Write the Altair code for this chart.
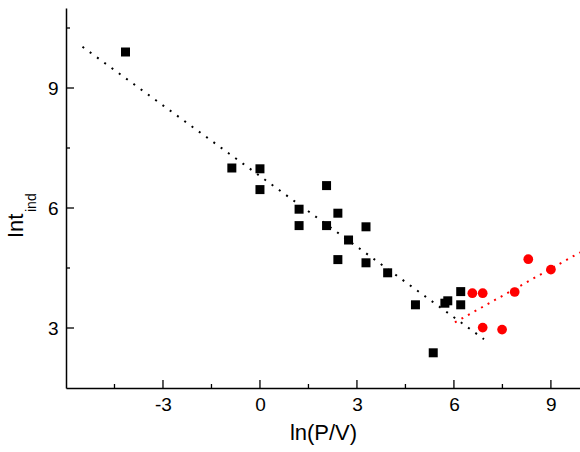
import altair as alt
import pandas as pd

# Black squares (ln(P/V), Int_ind)
sq_x = [-4.16, -0.87, 0.0, 0.0, 1.21, 1.21, 2.06, 2.06, 2.41, 2.41, 2.74, 3.28, 3.28,
        3.95, 4.81, 5.36, 5.72, 5.81, 6.21, 6.21]
sq_y = [9.9, 7.0, 6.98, 6.46, 5.97, 5.56, 6.56, 5.56, 5.87, 4.71, 5.2, 5.53, 4.63,
        4.38, 3.58, 2.38, 3.62, 3.68, 3.91, 3.58]
# Red circles
ci_x = [6.57, 6.89, 6.89, 7.49, 7.88, 8.3, 9.0]
ci_y = [3.87, 3.87, 3.01, 2.96, 3.9, 4.72, 4.46]
# Fit lines (end points)
fit_black_x = [-5.49, 6.93]
fit_black_y = [10.03, 2.72]
fit_red_x = [6.03, 9.9]
fit_red_y = [3.14, 4.89]
# Ticks
x_major = [-3, 0, 3, 6, 9]
x_minor = [-4.5, -1.5, 1.5, 4.5, 7.5]
y_major = [3, 6, 9]
y_minor = [4.5, 7.5, 10.5]

FONT = "Liberation Sans"
W, H = 514, 380
xs = alt.Scale(domain=[-6, 9.9], nice=False, zero=False)
ys = alt.Scale(domain=[1.5, 11], nice=False, zero=False)

sq = pd.DataFrame({"x": sq_x, "y": sq_y})
ci = pd.DataFrame({"x": ci_x, "y": ci_y})
fb = pd.DataFrame({"x": fit_black_x, "y": fit_black_y})
fr = pd.DataFrame({"x": fit_red_x, "y": fit_red_y})

xaxis = alt.Axis(values=x_major, ticks=False, grid=False, domainColor="black",
                 domainWidth=1.5, labelFontSize=19, labelColor="black",
                 labelPadding=7, labelFont=FONT, labelExpr="'' + datum.value",
                 title="ln(P/V)", titleFont=FONT,
                 titleFontSize=22, titleFontWeight="normal", titleColor="black",
                 titlePadding=8)
yaxis = alt.Axis(values=y_major, ticks=False, grid=False, domainColor="black",
                 domainWidth=1.5, labelFontSize=19, labelColor="black",
                 labelPadding=8, labelFont=FONT, labelExpr="'' + datum.value", title=None)

base_sq = alt.Chart(sq).mark_point(shape="square", filled=True, size=81, opacity=1,
                                   color="black").encode(
    x=alt.X("x:Q", scale=xs, axis=xaxis),
    y=alt.Y("y:Q", scale=ys, axis=yaxis),
)
base_ci = alt.Chart(ci).mark_point(shape="circle", filled=True, size=95, opacity=1,
                                   color="#ff0000").encode(
    x=alt.X("x:Q", scale=xs), y=alt.Y("y:Q", scale=ys))

line_b = alt.Chart(fb).mark_line(color="black", strokeWidth=2, strokeDash=[2, 7]).encode(
    x=alt.X("x:Q", scale=xs), y=alt.Y("y:Q", scale=ys))
line_r = alt.Chart(fr).mark_line(color="#ff0000", strokeWidth=2, strokeDash=[2, 5.5]).encode(
    x=alt.X("x:Q", scale=xs), y=alt.Y("y:Q", scale=ys))

def xticks(vals, ln):
    return alt.Chart(pd.DataFrame({"x": vals})).mark_rule(color="black", strokeWidth=1.3).encode(
        x=alt.X("x:Q", scale=xs), y=alt.value(H), y2=alt.value(H - ln))

def yticks(vals, ln):
    return alt.Chart(pd.DataFrame({"y": vals})).mark_rule(color="black", strokeWidth=1.3).encode(
        y=alt.Y("y:Q", scale=ys), x=alt.value(0), x2=alt.value(ln))

t_int = alt.Chart(pd.DataFrame({"t": ["Int"]})).mark_text(
    angle=270, align="left", baseline="alphabetic", font=FONT, fontSize=22, color="black"
).encode(text="t:N", x=alt.value(-43), y=alt.value(230))
t_sub = alt.Chart(pd.DataFrame({"t": ["ind"]})).mark_text(
    angle=270, align="left", baseline="alphabetic", font=FONT, fontSize=14, color="black"
).encode(text="t:N", x=alt.value(-30), y=alt.value(204))

chart = alt.layer(
    line_b, line_r, base_sq, base_ci,
    xticks(x_major, 8), xticks(x_minor, 4), yticks(y_major, 8), yticks(y_minor, 4),
    t_int, t_sub,
).properties(
    width=W, height=H,
    autosize=alt.AutoSizeParams(type="none"),
    padding={"left": 66, "top": 8, "right": 0, "bottom": 64},
    background="white",
).configure_view(stroke=None)

chart.save("out.html", embed_options={"renderer": "svg", "actions": False})
